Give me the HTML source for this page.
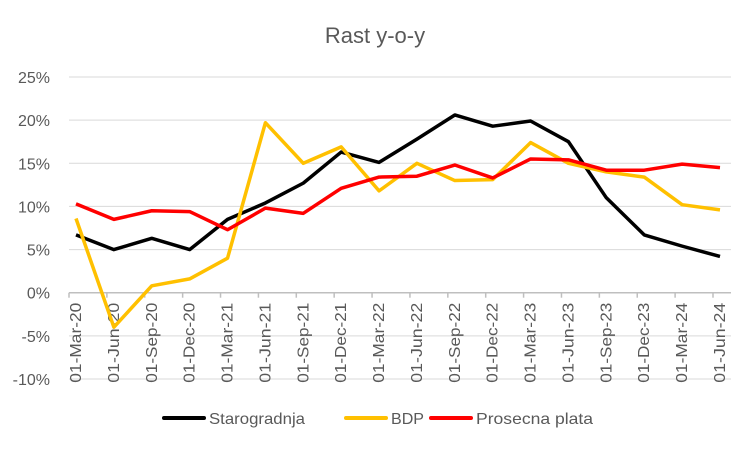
<!DOCTYPE html>
<html><head><meta charset="utf-8"><style>
body{margin:0;background:#fff;font-family:"Liberation Sans",Arial,sans-serif}
</style></head><body>
<svg id="c" width="750" height="450" xmlns="http://www.w3.org/2000/svg"></svg>
<script>
const categories=["01-Mar-20","01-Jun-20","01-Sep-20","01-Dec-20","01-Mar-21","01-Jun-21","01-Sep-21","01-Dec-21","01-Mar-22","01-Jun-22","01-Sep-22","01-Dec-22","01-Mar-23","01-Jun-23","01-Sep-23","01-Dec-23","01-Mar-24","01-Jun-24"];
const starogradnja=[6.7,5.0,6.3,5.0,8.5,10.4,12.7,16.3,15.1,17.8,20.6,19.3,19.9,17.5,11.0,6.7,5.4,4.2];
const bdp=[8.6,-4.0,0.8,1.6,4.0,19.7,15.0,16.9,11.8,15.0,13.0,13.1,17.4,15.0,14.0,13.4,10.2,9.6];
const plata=[10.3,8.5,9.5,9.4,7.3,9.8,9.2,12.1,13.4,13.5,14.8,13.3,15.5,15.4,14.2,14.2,14.9,14.5];
const yTicks=[-10,-5,0,5,10,15,20,25];
const svg=document.getElementById('c');const NS="http://www.w3.org/2000/svg";
function mk(t,a,txt){const e=document.createElementNS(NS,t);for(const k in a)e.setAttribute(k,a[k]);if(txt!=null)e.textContent=txt;svg.appendChild(e);return e;}
const x0=76,x1=720,yMin=-10,yMax=25,yTop=77,yBot=379;
const X=i=>x0+i*(x1-x0)/(categories.length-1);
const Y=v=>yBot-(v-yMin)/(yMax-yMin)*(yBot-yTop);
let t=mk('text',{x:375,y:43,'text-anchor':'middle','font-size':22,fill:'#595959'},'Rast y-o-y');

yTicks.forEach(v=>{
 const g=mk('line',{x1:69,x2:731,y1:Y(v),y2:Y(v),stroke:'#d9d9d9','stroke-width':1});
 
 const l=mk('text',{x:50,y:Y(v)+6,'text-anchor':'end','font-size':16,fill:'#595959'},v+'%');
 
});
const ax=mk('line',{x1:69,x2:731,y1:Y(0),y2:Y(0),stroke:'#bfbfbf','stroke-width':1.5});

categories.forEach((c,i)=>{
 const tk=mk('line',{x1:X(i)-7,x2:X(i)-7,y1:Y(0),y2:Y(0)+5,stroke:'#bfbfbf','stroke-width':1.5});
 
 const l=mk('text',{transform:`translate(${X(i)+5},${Y(0)+10}) rotate(-90)`,'text-anchor':'end','font-size':15.5,textLength:80,lengthAdjust:'spacingAndGlyphs',fill:'#595959'},c);
 
});
function line(d,col,name){
 const p=mk('polyline',{points:d.map((v,i)=>X(i)+','+Y(v)).join(' '),fill:'none',stroke:col,'stroke-width':3.5,'stroke-linejoin':'round'});
 
}
line(starogradnja,'#000000','series-starogradnja');
line(bdp,'#ffc000','series-bdp');
line(plata,'#ff0000','series-prosecna-plata');
[['Starogradnja','#000000',164,96],['BDP','#ffc000',346,33],['Prosecna plata','#ff0000',431,117]].forEach(([n,c,x,w])=>{
 const s=mk('line',{x1:x,x2:x+40,y1:418,y2:418,stroke:c,'stroke-width':4,'stroke-linecap':'round'});
 
 const l=mk('text',{x:x+45,y:424,'font-size':16,textLength:w,lengthAdjust:'spacingAndGlyphs',fill:'#595959'},n);
 
});
</script>
</body></html>
